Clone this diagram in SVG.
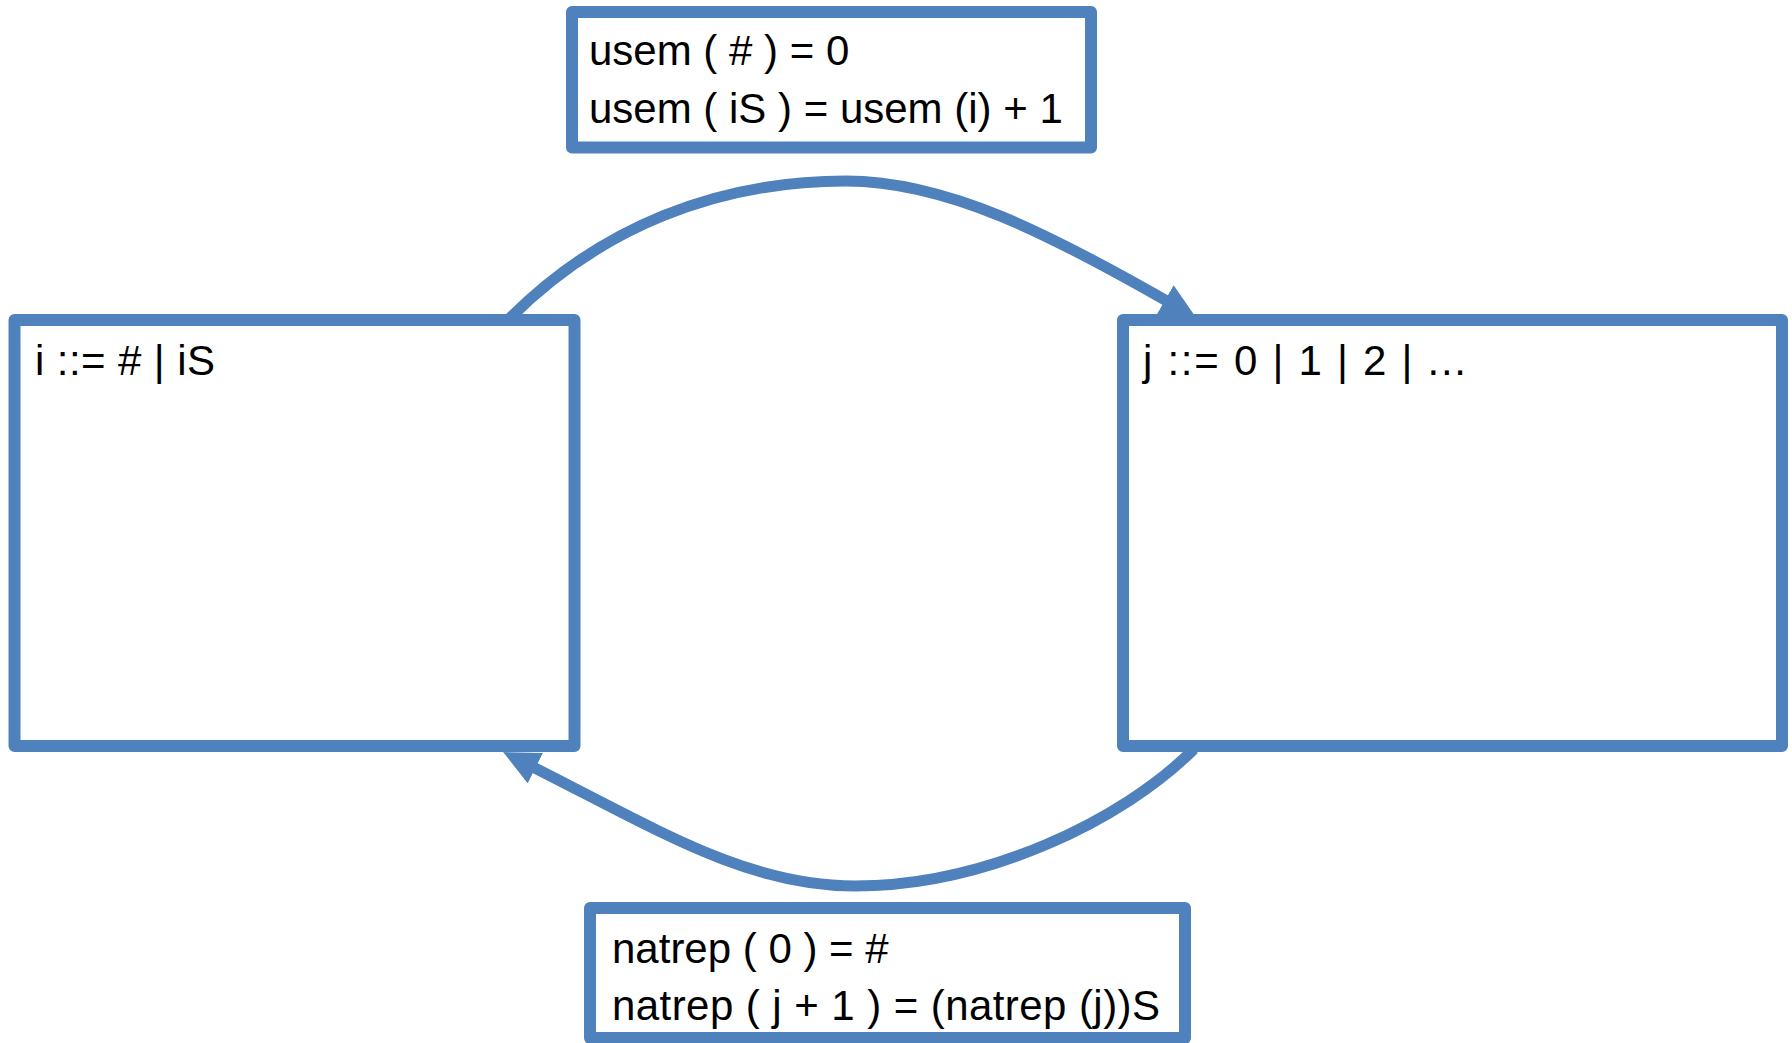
<svg xmlns="http://www.w3.org/2000/svg" width="1792" height="1043" viewBox="0 0 1792 1043">
  <style>
    .box { fill: #ffffff; stroke: #4F81BD; stroke-width: 12; stroke-linejoin: round; }
    .conn { fill: none; stroke: #4F81BD; stroke-width: 11; }
    .t { font-family: "Liberation Sans", Arial, sans-serif; font-size: 42px; fill: #000000; }
  </style>
  <defs>
    <marker id="arrow" markerUnits="userSpaceOnUse" markerWidth="36" markerHeight="34" viewBox="0 0 36 34" refX="16" refY="17" orient="auto">
      <path d="M0,0 L36,17 L0,34 Z" fill="#4F81BD"/>
    </marker>
  </defs>
  <rect width="1792" height="1043" fill="#ffffff"/>
  <g id="connectors">
    <path class="conn" d="M510,318 C600,228 716,181 846,181 C946,181 1049,233 1179,308" marker-end="url(#arrow)"/>
    <path class="conn" d="M1194,749 C1122,821 985,886 855,886 C745,886 655,828 521,761" marker-end="url(#arrow)"/>
  </g>
  <g id="node-usem">
    <rect class="box" x="572" y="12" width="519" height="135.5"/>
    <text class="t" x="589" y="65">usem ( # ) = 0</text>
    <text class="t" x="589" y="123">usem ( iS ) = usem (i) + 1</text>
  </g>
  <g id="node-i">
    <rect class="box" x="14.5" y="320" width="560" height="426"/>
    <text class="t" x="35" y="375" textLength="180" lengthAdjust="spacing">i ::= # | iS</text>
  </g>
  <g id="node-j">
    <rect class="box" x="1123" y="320" width="659" height="426"/>
    <text class="t" x="1143" y="375" textLength="323" lengthAdjust="spacing">j ::= 0 | 1 | 2 | ...</text>
  </g>
  <g id="node-natrep">
    <rect class="box" x="590" y="908" width="595" height="130"/>
    <text class="t" x="612" y="963">natrep ( 0 ) = #</text>
    <text class="t" x="612" y="1020" textLength="548" lengthAdjust="spacing">natrep ( j + 1 ) = (natrep (j))S</text>
  </g>
</svg>
